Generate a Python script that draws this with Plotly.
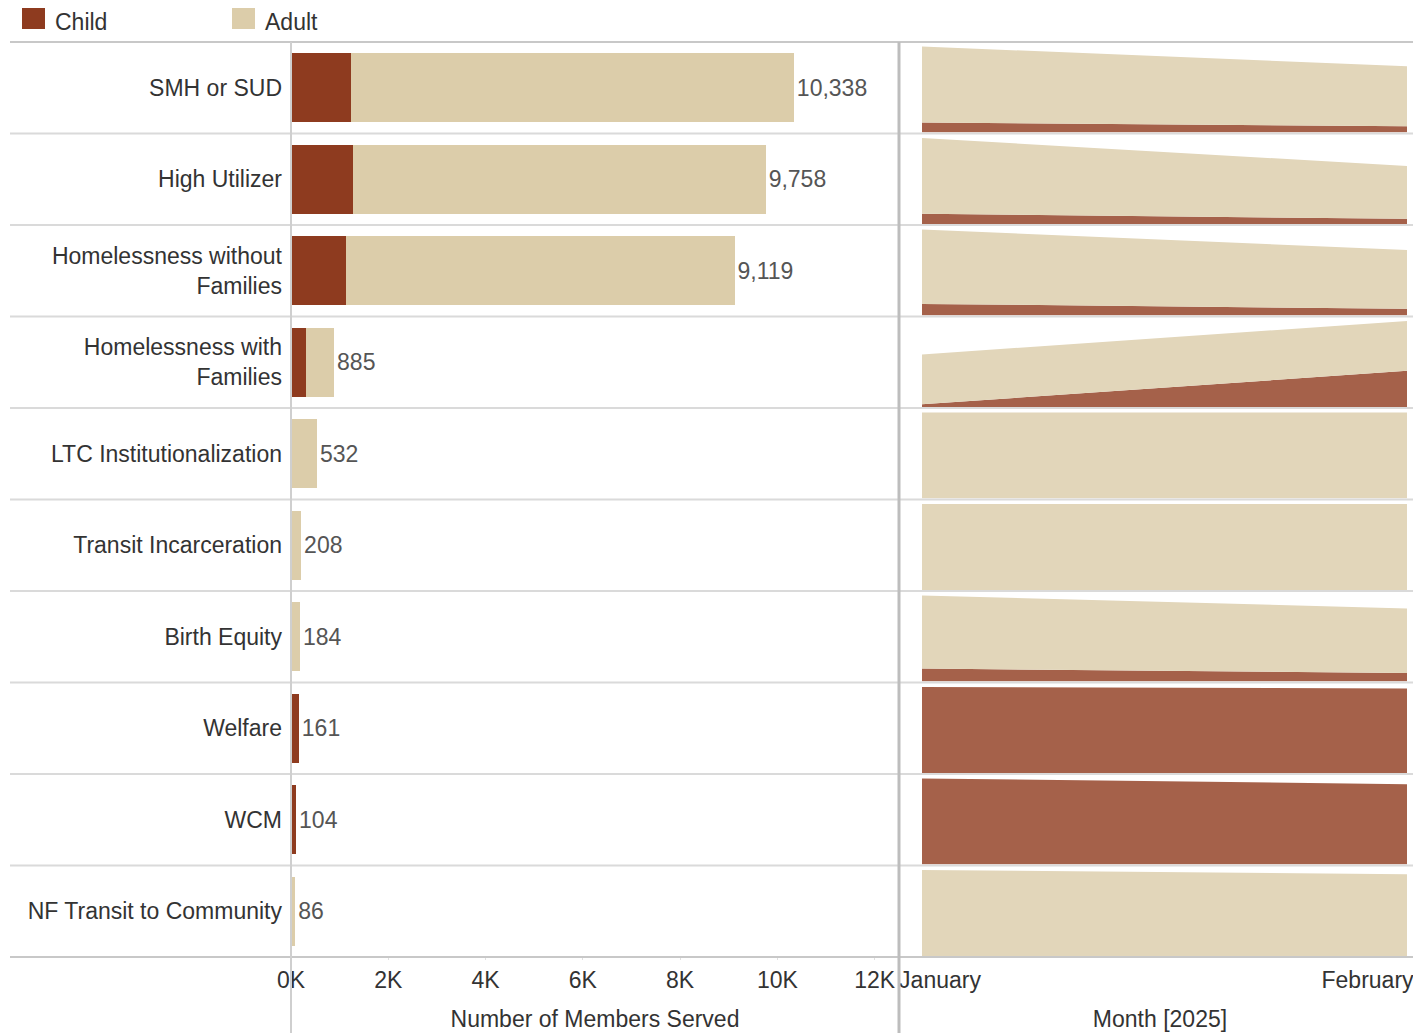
import plotly.graph_objects as go

# ---------------- data ----------------
categories = ["SMH or SUD", "High Utilizer", "Homelessness without<br>Families",
              "Homelessness with<br>Families", "LTC Institutionalization",
              "Transit Incarceration", "Birth Equity", "Welfare", "WCM",
              "NF Transit to Community"]
series_names = ["Child", "Adult"]
child_total = [1230, 1270, 1140, 300, 0, 0, 12, 161, 104, 0]
adult_total = [9108, 8488, 7979, 585, 532, 208, 172, 0, 0, 86]

months = ["January", "February"]
jan_child = [675, 685, 702, 20, 0, 0, 18, 115, 75, 0]
jan_adult = [5175, 5115, 4498, 371, 395, 150, 102, 0, 0, 62]
feb_child = [425, 352, 402, 269, 0, 0, 12, 113, 70, 0]
feb_adult = [4075, 3556, 3556, 371, 395, 150, 90, 0, 0, 59]

x_tick_vals = [0, 2000, 4000, 6000, 8000, 10000, 12000]
x_tick_text = ["0K", "2K", "4K", "6K", "8K", "10K", "12K"]

# ---------------- styling ----------------
OFF = 8                      # page body margin
W, H = 1421 - OFF, 1033 - OFF
FONT = "Liberation Sans, Arial, sans-serif"
C_CHILD, C_ADULT = "#8E3B1F", "#DCCDAA"
A_CHILD, A_ADULT = "#A5614A", "#E2D6BA"
TXT = "#333333"

def px_x(p):
    return (p - OFF) / W

def px_y(p):
    return 1 - (p - OFF) / H

TOP, BOT = 42, 957
ROW_H = (BOT - TOP) / len(categories)
LEFT_AX, SPLIT = 291, 899

fig = go.Figure()

totals = [c + a for c, a in zip(child_total, adult_total)]

# bar chart
fig.add_trace(go.Bar(y=categories, x=child_total, orientation="h", name=series_names[0],
                     marker=dict(color=C_CHILD, line=dict(width=0)), width=0.75,
                     showlegend=False, hoverinfo="x+y"))
fig.add_trace(go.Bar(y=categories, x=adult_total, orientation="h", name=series_names[1],
                     marker=dict(color=C_ADULT, line=dict(width=0)), width=0.75,
                     text=[f"{t:,}" for t in totals], textposition="outside",
                     outsidetextfont=dict(size=23, color="#555555", family=FONT),
                     textangle=0, cliponaxis=False, constraintext="none",
                     showlegend=False, hoverinfo="x+y"))

# area small multiples
layout_axes = {}
x_num = [0, 1]
for i in range(len(categories)):
    yname = f"y{i + 2}"
    top = TOP + ROW_H * i
    bot = top + ROW_H
    mx = max(jan_child[i] + jan_adult[i], feb_child[i] + feb_adult[i])
    layout_axes[f"yaxis{i + 2}"] = dict(domain=[px_y(bot - 1), px_y(top)], anchor="x2",
                                        range=[0, mx * 1.052], visible=False, fixedrange=True)
    fig.add_trace(go.Scatter(x=x_num, y=[jan_child[i], feb_child[i]], xaxis="x2", yaxis=yname,
                             mode="none", stackgroup=f"s{i}", fillcolor=A_CHILD,
                             name=series_names[0], showlegend=False))
    fig.add_trace(go.Scatter(x=x_num, y=[jan_adult[i], feb_adult[i]], xaxis="x2", yaxis=yname,
                             mode="none", stackgroup=f"s{i}", fillcolor=A_ADULT,
                             name=series_names[1], showlegend=False))

# x range so that Jan/Feb land at the reference pixel positions
a = -0.04742
b = 1.02886

shapes = []
line_c = "#DADADA"
# row separators
for i in range(1, len(categories)):
    shapes.append(dict(type="line", xref="paper", yref="y", x0=px_x(10), x1=1,
                       y0=i - 0.5, y1=i - 0.5, line=dict(color=line_c, width=2)))
# top & bottom borders
for yy in (TOP, BOT):
    shapes.append(dict(type="line", xref="paper", yref="paper", x0=px_x(10), x1=1,
                       y0=px_y(yy), y1=px_y(yy), line=dict(color="#C8C8C8", width=2)))
# vertical dividers
shapes.append(dict(type="line", xref="paper", yref="paper", x0=px_x(LEFT_AX), x1=px_x(LEFT_AX),
                   y0=0, y1=px_y(TOP), line=dict(color="#CFCFCF", width=2)))
shapes.append(dict(type="line", xref="paper", yref="paper", x0=px_x(SPLIT), x1=px_x(SPLIT),
                   y0=0, y1=px_y(TOP), line=dict(color="#BDBDBD", width=3)))

# custom legend
annotations = []
for name, col, x0 in ((series_names[0], C_CHILD, 22), (series_names[1], C_ADULT, 232)):
    shapes.append(dict(type="rect", xref="paper", yref="paper", x0=px_x(x0), x1=px_x(x0 + 23),
                       y0=px_y(29), y1=px_y(6), fillcolor=col, line=dict(width=0)))
    annotations.append(dict(text=name, xref="paper", yref="paper", x=px_x(x0 + 32), y=px_y(22),
                            xanchor="left", yanchor="middle", showarrow=False, borderpad=0,
                            font=dict(size=23, color=TXT, family=FONT)))

fig.update_layout(
    width=W, height=H, margin=dict(l=0, r=0, t=0, b=0),
    paper_bgcolor="white", plot_bgcolor="white",
    barmode="stack", bargap=0.25,
    font=dict(family=FONT, size=23, color=TXT),
    showlegend=False,
    xaxis=dict(domain=[px_x(LEFT_AX), px_x(SPLIT)], range=[0, 12500], anchor="y",
               tickvals=x_tick_vals, ticktext=x_tick_text, showgrid=False, zeroline=False,
               ticks="outside", ticklen=2, tickcolor="#E0E0E0",
               tickfont=dict(size=23, color=TXT), automargin=False, ticklabeloverflow="allow",
               title=dict(text="Number of Members Served", font=dict(size=23, color=TXT), standoff=19),
               fixedrange=True),
    yaxis=dict(domain=[px_y(BOT), px_y(TOP)], anchor="x", categoryorder="array",
               categoryarray=categories, autorange="reversed", showgrid=False, zeroline=False,
               ticks="", ticklabelstandoff=8, tickfont=dict(size=23, color=TXT),
               automargin=False, fixedrange=True),
    xaxis2=dict(domain=[px_x(SPLIT), 1], range=[a, b], anchor=f"y{len(categories) + 1}",
                tickvals=[0.0371, 0.9186], ticktext=months, showgrid=False, zeroline=False,
                ticks="", ticklabelstandoff=8, tickfont=dict(size=23, color=TXT),
                automargin=False, ticklabeloverflow="allow",
                title=dict(text="Month [2025]", font=dict(size=23, color=TXT), standoff=18),
                fixedrange=True),
    shapes=shapes, annotations=annotations,
    **layout_axes,
)

fig.write_html("out.html")
